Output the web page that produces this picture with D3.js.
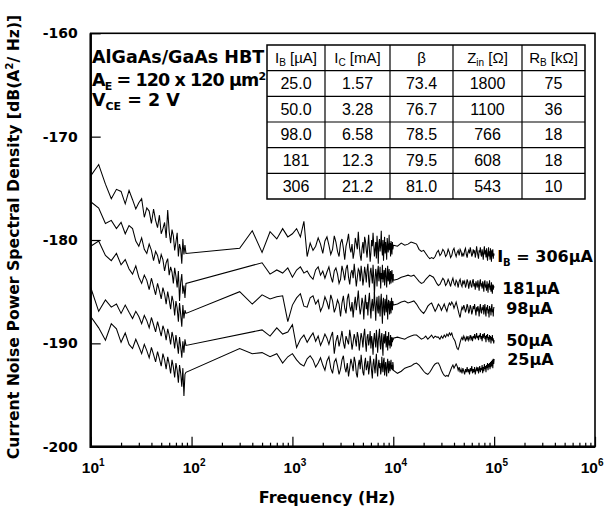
<!DOCTYPE html>
<html>
<head>
<meta charset="utf-8">
<style>
  body { margin: 0; background: #fff; }
  svg { font-family: "DejaVu Sans", sans-serif; }
  .bold { font-weight: bold; }
  .curve { fill: none; stroke: #000; stroke-width: 1.05; }
  .cell { font-family: "Liberation Sans", Arial, sans-serif; font-size: 15px; }
  .tick line { stroke: #000; stroke-width: 1.2; }
</style>
</head>
<body>
<div id="chart"></div>
<script src="https://d3js.org/d3.v7.min.js"></script>
<script>
// frequency spans of the three measured segments (Hz), values are sampled evenly in each span
var lowSpan = [10, 88];
var midSpan = [300, 10000];
var highSpan = [10000, 100000];

var currents = ['306', '181', '98', '50', '25'];
var curveLabels = ['306\u00b5A', '181\u00b5A', '98\u00b5A', '50\u00b5A', '25\u00b5A'];

// IB = 306 uA
var low306 = [-173.8, -172.7, -174.6, -176.0, -175.1, -175.3, -176.5, -175.2, -176.1, -177.0,
  -176.4, -176.0, -177.8, -176.9, -177.2, -178.4, -177.0, -178.1, -178.8, -177.6,
  -179.4, -178.9, -178.3, -179.8, -177.1, -179.2, -180.3, -179.0, -179.6, -181.0,
  -180.2, -179.3, -181.6, -180.4, -180.9, -182.3, -179.9, -181.4, -180.5, -181.3];
var mid306 = [-180.8, -179.1, -181.2, -179.2, -179.9, -178.9, -179.7, -179.4, -178.9, -179.7,
  -178.2, -181.6, -180.3, -181.0, -180.6, -179.8, -180.4, -181.3, -180.1, -179.7,
  -180.5, -181.4, -180.9, -179.6, -180.2, -181.1, -181.6, -180.3, -179.9, -180.8,
  -181.9, -180.6, -180.1, -179.4, -180.7, -181.2, -180.4, -181.8, -181.1, -179.8,
  -180.3, -180.9, -179.2, -180.6, -181.5, -182.0, -180.8, -180.2, -181.3, -179.7,
  -180.1, -181.0, -181.7, -180.5, -179.5, -180.9, -182.1, -181.2, -180.0, -180.6,
  -179.3, -180.4, -181.6, -180.9, -180.2, -181.8, -179.6, -180.7, -182.3, -180.3,
  -179.9, -181.1, -180.5, -179.1, -180.8, -181.5, -180.0, -182.0, -180.6, -179.7,
  -181.3, -180.2, -180.9, -181.9, -179.8, -180.4, -181.2, -180.7, -179.5, -181.0,
  -180.3, -181.6, -180.1, -180.8, -181.4, -180.2, -180.9, -180.6];
var high306 = [-180.5, -180.6, -180.3, -180.5, -180.4, -180.2, -180.3, -180.4, -180.9, -181.1,
  -181.0, -181.3, -181.6, -181.8, -181.7, -181.8, -181.6, -181.2, -181.0, -181.5,
  -181.3, -180.9, -181.1, -181.6, -181.4, -180.9, -181.2, -181.7, -181.5, -181.0,
  -180.8, -181.3, -181.6, -181.2, -181.0, -181.5, -180.9, -181.1, -181.6, -181.3,
  -181.5, -181.0, -180.8, -181.4, -181.7, -181.2, -181.0, -181.3, -180.7, -181.1,
  -181.6, -181.4, -180.9, -181.2, -181.0, -181.7, -181.3, -180.6, -181.1, -181.5,
  -181.8, -181.0, -181.2, -180.7, -181.4, -181.6, -180.9, -181.3, -181.9, -181.1,
  -180.6, -181.4, -181.0, -181.7, -180.8, -181.5, -182.0, -181.2, -180.7, -181.6,
  -181.1, -181.9, -180.8, -181.3, -182.1, -181.0, -181.6, -180.9, -181.8, -181.3,
  -181.5];

// IB = 181 uA
var low181 = [-176.3, -176.9, -178.4, -178.1, -178.9, -178.3, -179.4, -178.6, -178.9, -180.1,
  -180.6, -179.8, -180.9, -181.3, -180.4, -181.0, -182.0, -181.1, -181.5, -182.3,
  -181.4, -181.9, -183.0, -182.2, -181.8, -183.4, -182.6, -183.1, -184.2, -182.7,
  -183.5, -184.6, -183.0, -185.9, -184.1, -183.3, -185.2, -184.4, -185.6, -184.2];
var mid181 = [null, null, -182.2, -183.3, -182.9, -183.2, -182.7, -183.6, -182.9, -182.6,
  -183.2, -183.0, -183.5, -183.8, -182.9, -182.6, -183.4, -183.0, -183.7, -183.1,
  -182.6, -183.5, -184.1, -183.0, -182.7, -183.3, -184.2, -183.8, -182.5, -183.1,
  -183.9, -182.8, -182.4, -183.6, -184.3, -183.2, -182.9, -183.7, -182.3, -183.4,
  -184.5, -183.6, -182.8, -183.0, -184.0, -182.5, -183.3, -184.4, -183.7, -182.6,
  -183.2, -184.1, -182.9, -182.3, -183.8, -184.6, -183.1, -182.7, -183.5, -184.2,
  -182.4, -183.6, -185.3, -183.9, -182.8, -183.3, -184.5, -183.0, -182.5, -184.0,
  -183.4, -182.6, -184.7, -183.2, -183.8, -182.4, -184.1, -183.5, -182.9, -184.4,
  -183.1, -182.7, -183.9, -184.6, -183.3, -182.5, -184.0, -183.6, -182.8, -184.3,
  -183.5, -183.0, -184.2, -183.4, -182.9, -183.8, -184.1, -183.3];
var high181 = [-183.9, -183.8, -183.6, -183.5, -183.4, -183.5, -183.4, -183.7, -184.0, -184.2,
  -184.1, -183.8, -183.6, -183.4, -183.5, -183.6, -183.9, -184.2, -184.4, -184.3,
  -184.0, -183.7, -183.9, -184.4, -184.2, -183.8, -184.1, -184.5, -184.0, -183.7,
  -184.2, -184.4, -183.9, -184.1, -184.6, -184.0, -183.8, -184.3, -184.5, -183.9,
  -184.2, -184.0, -184.6, -184.3, -183.8, -184.1, -184.7, -184.2, -183.9, -184.4,
  -184.6, -184.0, -183.8, -184.5, -184.2, -184.8, -184.0, -184.3, -184.6, -183.9,
  -184.4, -184.9, -184.1, -183.8, -184.5, -184.2, -184.7, -184.0, -184.4, -185.0,
  -184.1, -183.9, -184.6, -184.3, -184.9, -184.0, -184.5, -185.1, -184.2, -184.6,
  -183.9, -184.8, -184.4, -185.0, -184.1, -184.7, -185.2, -184.3, -184.8, -184.5,
  -184.6];

// IB = 98 uA
var low98 = [-180.6, -180.1, -181.5, -182.0, -181.3, -182.4, -181.9, -182.8, -183.3, -182.5,
  -183.6, -184.2, -183.4, -183.9, -184.8, -183.7, -184.5, -185.3, -184.2, -184.9,
  -185.7, -184.6, -185.2, -186.2, -185.0, -185.8, -186.7, -185.4, -186.0, -187.3,
  -185.9, -186.6, -187.9, -186.1, -187.2, -188.4, -186.3, -187.6, -186.8, -187.1];
var mid98 = [-185.0, -186.2, -185.3, -185.7, -185.5, -185.4, -187.9, -186.3, -185.6, -185.2,
  -186.4, -186.5, -185.6, -185.4, -186.2, -185.8, -186.9, -186.4, -185.5, -186.0,
  -186.7, -185.3, -185.9, -187.0, -186.5, -185.8, -186.2, -187.4, -186.1, -185.4,
  -186.6, -187.1, -185.7, -185.2, -186.4, -186.9, -186.0, -187.5, -186.3, -185.5,
  -186.8, -185.9, -184.9, -186.3, -187.2, -186.6, -185.6, -186.1, -187.7, -186.2,
  -185.3, -186.7, -186.0, -187.3, -185.8, -185.1, -186.5, -187.6, -186.2, -185.7,
  -186.9, -186.3, -185.0, -186.4, -187.8, -186.1, -185.5, -186.8, -187.1, -185.4,
  -186.6, -187.4, -185.9, -185.2, -186.7, -188.1, -186.0, -185.6, -186.9, -187.3,
  -185.7, -186.2, -187.0, -185.3, -186.5, -187.7, -186.1, -185.8, -186.6, -187.2,
  -185.9, -186.4, -187.1, -185.6, -186.3, -186.8, -185.9, -186.3];
var high98 = [-186.3, -186.2, -186.0, -185.9, -186.1, -186.0, -185.9, -186.2, -186.6, -186.9,
  -187.1, -186.8, -186.4, -186.2, -186.1, -186.5, -186.9, -186.6, -186.2, -186.4,
  -186.8, -186.5, -186.2, -186.6, -186.9, -186.4, -186.1, -186.3, -186.0, -186.2,
  -186.6, -186.3, -186.0, -186.4, -186.8, -187.2, -187.5, -186.9, -186.5, -186.7,
  -186.3, -186.6, -187.0, -186.7, -186.2, -186.5, -187.1, -186.8, -186.3, -186.6,
  -187.2, -186.9, -186.4, -186.7, -186.2, -186.8, -187.3, -186.5, -186.9, -186.4,
  -186.7, -187.4, -186.6, -186.2, -186.9, -187.1, -186.5, -186.8, -186.3, -187.2,
  -186.6, -186.2, -187.0, -187.4, -186.5, -186.8, -186.3, -187.1, -186.7, -187.5,
  -186.4, -186.9, -186.6, -187.3, -186.5, -186.2, -187.0, -186.7, -187.4, -186.5,
  -186.6];

// IB = 50 uA
var low50 = [-184.6, -186.9, -185.8, -186.5, -186.2, -187.1, -186.3, -187.0, -187.6, -186.9,
  -187.4, -188.1, -187.3, -187.8, -188.5, -187.5, -188.2, -188.9, -187.9, -188.6,
  -189.3, -188.3, -188.8, -189.7, -188.6, -189.2, -190.1, -188.9, -189.5, -190.5,
  -189.2, -190.0, -191.0, -189.4, -190.3, -191.4, -189.8, -190.9, -189.6, -190.2];
var mid50 = [null, null, -188.7, -189.3, -188.5, -189.1, -188.9, -188.2, -190.4, -189.6,
  -189.2, -189.9, -189.4, -189.0, -189.8, -189.3, -190.2, -189.7, -189.1, -189.5,
  -190.1, -189.4, -188.9, -191.0, -189.8, -189.2, -190.3, -189.6, -188.8, -189.9,
  -190.5, -189.3, -189.7, -190.1, -188.7, -189.5, -190.6, -189.9, -189.1, -189.6,
  -190.3, -188.9, -189.4, -190.7, -189.8, -189.0, -189.5, -190.4, -189.2, -188.6,
  -189.9, -190.8, -189.4, -189.1, -190.2, -189.7, -188.8, -190.5, -189.3, -189.9,
  -191.1, -189.6, -189.0, -189.8, -190.4, -188.7, -189.5, -190.9, -189.8, -189.2,
  -188.6, -190.1, -190.6, -189.4, -189.0, -190.3, -191.2, -189.5, -189.1, -190.0,
  -189.6, -188.8, -190.4, -189.9, -189.3, -190.7, -189.5, -188.9, -190.2, -189.7,
  -190.5, -189.2, -189.8, -190.3, -189.4, -189.9, -189.5, -189.7];
var high50 = [-189.5, -189.4, -189.5, -189.6, -189.4, -189.3, -189.2, -189.2, -189.4, -189.6,
  -189.5, -189.3, -189.6, -189.4, -189.2, -189.5, -189.3, -189.4, -189.4, -189.6,
  -189.3, -189.5, -189.2, -189.4, -189.1, -189.3, -189.0, -189.2, -189.0, -189.4,
  -189.6, -189.8, -190.2, -190.5, -190.6, -190.3, -189.9, -189.6, -189.4, -189.7,
  -189.3, -189.5, -189.8, -189.4, -189.6, -189.3, -189.7, -189.5, -189.2, -189.6,
  -189.4, -189.8, -189.3, -189.5, -189.1, -189.6, -189.4, -189.0, -189.5, -189.3,
  -189.7, -189.2, -189.4, -189.0, -189.6, -189.3, -189.8, -189.1, -189.5, -189.2,
  -189.0, -189.6, -189.3, -189.9, -189.2, -189.5, -189.1, -189.7, -189.4, -189.9,
  -189.2, -189.6, -189.3, -190.0, -189.4, -189.7, -189.2, -189.8, -189.5, -190.0,
  -189.7];

// IB = 25 uA
var low25 = [-187.4, -188.5, -189.7, -188.1, -188.6, -189.9, -189.0, -190.1, -190.5, -189.6,
  -190.3, -191.0, -190.1, -190.7, -191.4, -190.4, -191.1, -191.8, -190.8, -191.5,
  -192.2, -191.0, -191.6, -192.5, -191.3, -192.0, -192.9, -191.6, -192.3, -193.3,
  -191.9, -192.6, -193.8, -192.1, -192.9, -194.2, -192.4, -195.1, -193.0, -192.8];
var mid25 = [-190.5, -191.0, -190.9, -191.3, -191.0, -191.9, -191.3, -191.0, -191.6, -192.0,
  -192.2, -191.5, -191.2, -191.6, -192.3, -191.9, -191.4, -192.1, -192.6, -191.7,
  -191.3, -192.4, -192.9, -191.8, -191.5, -192.2, -193.0, -192.5, -191.6, -191.2,
  -192.3, -192.8, -191.9, -193.2, -192.4, -191.5, -192.0, -192.7, -191.3, -191.8,
  -192.9, -193.3, -192.1, -191.6, -192.5, -191.1, -192.0, -192.8, -193.1, -191.9,
  -191.4, -192.6, -192.2, -191.7, -193.0, -192.4, -191.2, -191.9, -192.7, -193.4,
  -192.0, -191.5, -192.3, -192.9, -191.8, -191.0, -192.5, -193.2, -192.1, -191.6,
  -192.4, -191.9, -193.0, -192.6, -191.3, -192.2, -192.8, -191.7, -191.4, -193.1,
  -192.3, -191.8, -192.6, -193.2, -192.0, -191.5, -192.4, -192.9, -191.7, -192.2,
  -192.7, -191.9, -191.6, -192.5, -192.1, -192.6, -191.8, -192.2];
var high25 = [-192.6, -192.9, -192.7, -192.4, -192.3, -192.2, -192.0, -191.9, -192.1, -192.4,
  -192.7, -192.9, -193.0, -192.8, -192.5, -192.2, -192.0, -191.9, -191.9, -192.2,
  -192.6, -192.9, -193.1, -193.2, -193.1, -193.2, -192.9, -192.6, -192.3, -192.1,
  -192.4, -192.2, -192.0, -192.2, -192.6, -192.3, -192.8, -192.5, -192.9, -192.4,
  -192.7, -193.0, -192.5, -192.8, -192.3, -192.8, -192.5, -193.0, -192.4, -192.7,
  -192.2, -192.9, -192.5, -192.8, -192.3, -193.0, -192.6, -192.4, -192.7, -192.3,
  -192.9, -192.5, -192.2, -192.8, -192.4, -192.6, -192.1, -192.9, -192.3, -192.7,
  -192.0, -192.5, -192.2, -192.8, -192.1, -192.4, -191.9, -192.6, -192.0, -192.3,
  -191.9, -192.5, -191.8, -192.3, -191.7, -192.2, -191.6, -192.4, -191.5, -192.0,
  -191.5];

// table inset: header = [symbol, subscript, unit]
var tableHead = [['I', 'B', ' [\u00b5A]'], ['I', 'C', ' [mA]'], ['\u03b2', '', ''], ['Z', 'in', ' [\u03a9]'], ['R', 'B', ' [k\u03a9]']];
var tableRows = [
  ['25.0', '1.57', '73.4', '1800', '75'],
  ['50.0', '3.28', '76.7', '1100', '36'],
  ['98.0', '6.58', '78.5', '766', '18'],
  ['181', '12.3', '79.5', '608', '18'],
  ['306', '21.2', '81.0', '543', '10']
];

var yTicks = [-200, -190, -180, -170, -160];
var xMajor = [1e1, 1e2, 1e3, 1e4, 1e5, 1e6];

var width = 604, height = 512;
var plot = { left: 90.7, right: 595, top: 33.3, bottom: 446.7 };

var x = d3.scaleLog().domain([10, 1e6]).range([plot.left, plot.right]);
var y = d3.scaleLinear().domain([-200, -160]).range([plot.bottom, plot.top]);

var svg = d3.select('#chart').append('svg')
  .attr('width', width)
  .attr('height', height)
  .style('background', '#fff');

function segment(vals, span) {
  var n = vals.length;
  return vals.map(function (v, i) {
    return { f: span[0] + i * (span[1] - span[0]) / (n - 1), v: v };
  }).filter(function (d) { return d.v !== null; });
}

var series = [
  [low306, mid306, high306],
  [low181, mid181, high181],
  [low98, mid98, high98],
  [low50, mid50, high50],
  [low25, mid25, high25]
].map(function (s) {
  return segment(s[0], lowSpan).concat(segment(s[1], midSpan), segment(s[2], highSpan));
});

// x axis ticks (inward)
var minor = x.ticks().filter(function (t) { return xMajor.indexOf(t) < 0; });
svg.append('g')
  .attr('transform', 'translate(0,' + plot.bottom + ')')
  .call(d3.axisBottom(x).tickValues(minor).tickSize(-4).tickFormat(''))
  .call(function (g) { g.select('.domain').remove(); });

var xg = svg.append('g')
  .attr('transform', 'translate(0,' + plot.bottom + ')')
  .call(d3.axisBottom(x).tickValues(xMajor).tickSize(-10).tickFormat(''))
  .call(function (g) { g.select('.domain').remove(); });

xg.selectAll('.tick').append('text')
  .attr('class', 'bold')
  .attr('fill', '#000')
  .attr('text-anchor', function (d) { return d === 1e6 ? 'end' : 'middle'; })
  .attr('x', function (d) { return d === 1e6 ? width - 1 - x(d) : 2; })
  .attr('y', 26)
  .style('font-size', '15.5px')
  .each(function (d) {
    var t = d3.select(this);
    t.append('tspan').text('10');
    t.append('tspan').attr('dy', -7).style('font-size', '10px').text(Math.round(Math.log10(d)));
  });

// y axis
svg.append('g')
  .attr('transform', 'translate(' + plot.left + ',0)')
  .call(d3.axisLeft(y).tickValues(yTicks).tickSize(-10).tickPadding(13).tickFormat(function (d) { return String(d); }))
  .call(function (g) { g.select('.domain').remove(); })
  .call(function (g) {
    g.selectAll('text').attr('class', 'bold').style('font-size', '14px').style('font-family', '"DejaVu Sans", sans-serif');
  });

// frame
svg.append('rect')
  .attr('x', plot.left).attr('y', plot.top)
  .attr('width', plot.right - plot.left).attr('height', plot.bottom - plot.top)
  .attr('fill', 'none').attr('stroke', '#000').attr('stroke-width', 1.6);
svg.append('path')
  .attr('d', 'M' + plot.left + ',' + plot.top + 'V' + plot.bottom + 'H' + plot.right)
  .attr('fill', 'none').attr('stroke', '#000').attr('stroke-width', 2.4);

// curves
var line = d3.line()
  .x(function (d) { return x(d.f); })
  .y(function (d) { return y(d.v); });

svg.append('g').selectAll('path')
  .data(series)
  .join('path')
  .attr('class', 'curve')
  .attr('d', line);

// curve labels at the 100 kHz end
var labelDx = [3, 8, 12, 12, 13];
var lab = svg.append('g').selectAll('text')
  .data(series)
  .join('text')
  .attr('class', 'bold')
  .style('font-size', '16px')
  .attr('x', function (d, i) { return x(1e5) + labelDx[i]; })
  .attr('y', function (d, i) { return y(d[d.length - 1].v) + 6; });
lab.each(function (d, i) {
  var t = d3.select(this);
  if (i === 0) {
    t.append('tspan').text('I');
    t.append('tspan').attr('dy', 4).style('font-size', '10px').text('B');
    t.append('tspan').attr('dy', -4).text(' = ' + curveLabels[i]);
  } else {
    t.text(curveLabels[i]);
  }
});

// device annotation
var note = svg.append('g').attr('class', 'bold').style('font-size', '17.5px');
note.append('text').attr('x', 92).attr('y', 63).text('AlGaAs/GaAs HBT');
var n2 = note.append('text').attr('x', 92).attr('y', 86).style('letter-spacing', '-0.9px');
n2.append('tspan').text('A');
n2.append('tspan').attr('dy', 4).style('font-size', '11px').text('E');
n2.append('tspan').attr('dy', -4).text(' = 120 x 120 \u00b5m');
n2.append('tspan').attr('dy', -6).style('font-size', '11px').text('2');
var n3 = note.append('text').attr('x', 92).attr('y', 106);
n3.append('tspan').text('V');
n3.append('tspan').attr('dy', 4).style('font-size', '11px').text('CE');
n3.append('tspan').attr('dy', -4).text(' = 2 V');

// table
var colEdges = [267, 325, 390, 453, 522, 585];
var rowBand = d3.scaleBand().domain(d3.range(6)).range([45, 199]);
var tg = svg.append('g');
tg.append('rect')
  .attr('x', colEdges[0]).attr('y', rowBand(0))
  .attr('width', colEdges[5] - colEdges[0]).attr('height', rowBand.bandwidth() * 6)
  .attr('fill', '#fff').attr('stroke', '#000').attr('stroke-width', 1.5);
tg.selectAll('line.v')
  .data(colEdges.slice(1, 5))
  .join('line')
  .attr('x1', function (d) { return d; }).attr('x2', function (d) { return d; })
  .attr('y1', rowBand(0)).attr('y2', rowBand(5) + rowBand.bandwidth())
  .attr('stroke', '#000').attr('stroke-width', 1.2);
tg.selectAll('line.h')
  .data(d3.range(1, 6))
  .join('line')
  .attr('x1', colEdges[0]).attr('x2', colEdges[5])
  .attr('y1', function (d) { return rowBand(d); }).attr('y2', function (d) { return rowBand(d); })
  .attr('stroke', '#000').attr('stroke-width', 1.2);

function colMid(j) { return (colEdges[j] + colEdges[j + 1]) / 2; }

tableHead.forEach(function (h, j) {
  var t = tg.append('text').attr('class', 'cell')
    .attr('text-anchor', 'middle')
    .attr('x', colMid(j))
    .attr('y', rowBand(0) + rowBand.bandwidth() / 2 + 5);
  t.append('tspan').text(h[0]);
  if (h[1]) {
    t.append('tspan').attr('dy', 3).style('font-size', '10px').text(h[1]);
    t.append('tspan').attr('dy', -3).text(h[2]);
  }
});
tableRows.forEach(function (r, i) {
  r.forEach(function (v, j) {
    tg.append('text').attr('class', 'cell')
      .attr('text-anchor', 'middle')
      .attr('x', colMid(j))
      .attr('y', rowBand(i + 1) + rowBand.bandwidth() / 2 + 5.5)
      .style('font-size', '16px')
      .text(v);
  });
});

// axis titles
svg.append('text')
  .attr('class', 'bold')
  .attr('text-anchor', 'middle')
  .attr('x', 327).attr('y', 503)
  .style('font-size', '16px')
  .text('Frequency (Hz)');

var yt = svg.append('text')
  .attr('class', 'bold')
  .attr('text-anchor', 'middle')
  .attr('transform', 'translate(19,237) rotate(-90)')
  .style('font-size', '15.7px');
yt.append('tspan').text('Current Noise Power Spectral Density [dB(A');
yt.append('tspan').attr('dy', -6).style('font-size', '10px').text('2');
yt.append('tspan').attr('dy', 6).text('/ Hz)]');
</script>
</body>
</html>
